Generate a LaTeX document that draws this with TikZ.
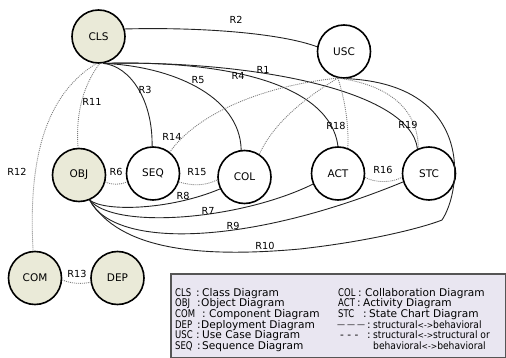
\documentclass[tikz,border=0pt]{standalone}
\usepackage{fontspec}
\setmainfont{DejaVu Sans}
\newfontfamily\abbrfont[FakeStretch=0.8]{DejaVu Sans}
\newfontfamily\relfont[FakeStretch=0.9]{DejaVu Sans}
\definecolor{nodefill}{RGB}{234,234,216}
\definecolor{legfill}{RGB}{233,230,241}
\definecolor{linegray}{RGB}{35,35,35}
\definecolor{dotgray}{RGB}{125,125,125}
\definecolor{legborder}{RGB}{85,85,85}
\begin{document}
\begin{tikzpicture}[x=1pt,y=-1pt,
  dnode/.style={circle,draw=black,line width=1.6pt,minimum size=53pt,inner sep=0pt,font=\fontsize{10.5}{12}\selectfont},
  snode/.style={dnode,fill=nodefill},
  wnode/.style={dnode,fill=white},
  sline/.style={draw=linegray,line width=0.9pt},
  dline/.style={draw=dotgray,line width=0.85pt,dash pattern=on 1pt off 1pt},
  elab/.style={inner sep=0pt,font=\fontsize{9.7}{11}\selectfont},
  leg/.style={anchor=base west,inner sep=0pt,font=\fontsize{10.6}{12}\selectfont},
  legabbr/.style={leg,font=\abbrfont\fontsize{10.6}{12}\selectfont},
  legrel/.style={leg,font=\relfont\fontsize{10.2}{12}\selectfont}]
\useasboundingbox (0,0) rectangle (506,358);
% legend box
\filldraw[fill=legfill,draw=legborder,line width=1.1pt] (171,274) rectangle (505.5,357.5);
% nodes
\node[snode] (CLS) at (98.5,36.5) {CLS};
\node[wnode] (USC) at (344,51.5) {USC};
\node[snode] (OBJ) at (79,175) {OBJ};
\node[wnode] (SEQ) at (153,173.5) {SEQ};
\node[wnode] (COL) at (244.5,177) {COL};
\node[wnode] (ACT) at (338,173.5) {ACT};
\node[wnode] (STC) at (429,173.5) {STC};
\node[snode] (COM) at (35,278) {COM};
\node[snode] (DEP) at (117.5,278) {DEP};
% solid edges
\draw[sline] (CLS.16) .. controls (200,27) and (280,33) .. (USC.170);
\draw[sline] (CLS.-80) .. controls (250,60) and (410,90) .. (STC.115);
\draw[sline] (CLS.-80) .. controls (230,60) and (330,85) .. (ACT.90);
\draw[sline] (CLS.-80) .. controls (170,66) and (240,95) .. (COL.97);
\draw[sline] (CLS.-80) .. controls (130,66) and (153,100) .. (SEQ.92);
\draw[sline] (OBJ.-67) .. controls (105,212) and (170,210) .. (COL.206);
\draw[sline] (OBJ.-67) .. controls (115,230) and (240,220) .. (ACT.203);
\draw[sline] (OBJ.-67) .. controls (115,250) and (250,245) .. (STC.198);
\coordinate (r10a) at (300,249);
\coordinate (r10b) at (442,220);
\draw[sline] (OBJ.-67) .. controls (120,250) and (200,258) .. (r10a) .. controls (380,240) and (430,225) .. (r10b) .. controls (462,190) and (475,85) .. (USC.-84);
% dotted edges
\draw[dline] (CLS.-88) .. controls (80,90) and (76,120) .. (OBJ.92);
\draw[dline] (CLS.-95) .. controls (45,95) and (28,160) .. (COM.94);
\draw[dline] (COM.-4) .. controls (72,284) and (82,284) .. (DEP.189);
\draw[dline] (OBJ.-15) .. controls (112,185) and (120,185) .. (SEQ.198);
\draw[dline] (SEQ.-18) .. controls (192,186) and (205,186) .. (COL.186);
\draw[dline] (ACT.-8) .. controls (375,183) and (392,183) .. (STC.188);
\draw[dline] (USC.-103) .. controls (270,85) and (200,110) .. (SEQ.52);
\draw[dline] (USC.-103) .. controls (310,95) and (275,120) .. (COL.57);
\draw[dline] (USC.-103) .. controls (345,100) and (349,125) .. (ACT.69);
\draw[dline] (USC.-103) .. controls (390,85) and (418,110) .. (STC.113);
% edge labels
\node[elab] (lR1) at (263,70) {R1};
\node[elab] (lR2) at (236,20) {R2};
\node[elab] (lR3) at (145,90) {R3};
\node[elab] (lR4) at (238,76) {R4};
\node[elab] (lR5) at (198,80) {R5};
\node[elab] (lR6) at (116,172) {R6};
\node[elab] (lR7) at (208,211) {R7};
\node[elab] (lR8) at (183,196) {R8};
\node[elab] (lR9) at (233,226) {R9};
\node[elab] (lR10) at (265,246) {R10};
\node[elab] (lR11) at (92,102) {R11};
\node[elab] (lR12) at (17,172) {R12};
\node[elab] (lR13) at (77,274) {R13};
\node[elab] (lR14) at (172,137) {R14};
\node[elab] (lR15) at (197,172) {R15};
\node[elab] (lR16) at (383,170) {R16};
\node[elab] (lR18) at (336,126) {R18};
\node[elab] (lR19) at (408,125) {R19};
% legend text
\node[legabbr] (k1) at (175,296) {CLS};   \node[leg] (c1) at (196,296) {:}; \node[leg] (d1) at (202,296) {Class Diagram};
\node[legabbr] (k2) at (175,306.7) {OBJ}; \node[leg] (c2) at (197,306.7) {:}; \node[leg] (d2) at (201,306.7) {Object Diagram};
\node[legabbr] (k3) at (175,317.3) {COM}; \node[leg] (c3) at (202,317.3) {:}; \node[leg] (d3) at (209,317.3) {Component Diagram};
\node[legabbr] (k4) at (175,328) {DEP};   \node[leg] (c4) at (197,328) {:}; \node[leg] (d4) at (201,328) {Deployment Diagram};
\node[legabbr] (k5) at (175,338.7) {USC}; \node[leg] (c5) at (196,338.7) {:}; \node[leg] (d5) at (202,338.7) {Use Case Diagram};
\node[legabbr] (k6) at (175,349.3) {SEQ}; \node[leg] (c6) at (197,349.3) {:}; \node[leg] (d6) at (202,349.3) {Sequence Diagram};
\node[legabbr] (k7) at (338,296) {COL};   \node[leg] (c7) at (358,296) {:}; \node[leg] (d7) at (365,296) {Collaboration Diagram};
\node[legabbr] (k8) at (338,306.7) {ACT}; \node[leg] (c8) at (357,306.7) {:}; \node[leg] (d8) at (363,306.7) {Activity Diagram};
\node[legabbr] (k9) at (338,317.3) {STC}; \node[leg] (c9) at (363,317.3) {:}; \node[leg] (d9) at (369,317.3) {State Chart Diagram};
\node[leg] (k10) at (337,327) {\fontsize{8}{8}\selectfont —\kern2pt—\kern2pt—}; \node[leg] (c10) at (367,328) {:};
\node[legrel] (d10) at (373,328) {structural{\fontsize{8.5}{8}\selectfont<->}behavioral};
\node[leg] (k11) at (340,338.7) {- - -}; \node[leg] (c11) at (367,338.7) {:};
\node[legrel] (d11) at (373,338.7) {structural{\fontsize{8.5}{8}\selectfont<->}structural or};
\node[legrel] (d12) at (373,349.3) {behavioral{\fontsize{8.5}{8}\selectfont<->}behavioral};
\end{tikzpicture}
\end{document}
